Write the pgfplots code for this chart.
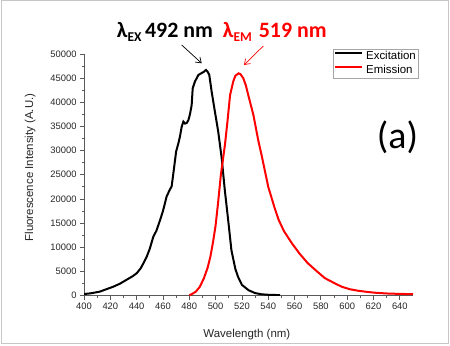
\documentclass[border=0pt]{standalone}
\usepackage{fontspec}
\setmainfont{Liberation Sans}
\newfontfamily\carlito{Carlito}
\usepackage{pgfplots}
\pgfplotsset{compat=1.18}
\usetikzlibrary{arrows.meta}
\begin{document}
\begin{tikzpicture}[x=1bp,y=1bp]
\useasboundingbox (0,0) rectangle (450,345);
\draw[gray!45, line width=1bp] (1,1.5) rectangle (448.5,344);
\begin{axis}[
 at={(84bp,49.5bp)}, anchor=south west, scale only axis, width=329bp, height=241.5bp,
 xmin=400, xmax=650, ymin=0, ymax=50000,
 axis lines=left, axis line style={-, black!65, line width=0.8bp},
 xtick={400,420,...,640}, ytick={0,5000,...,50000},
 minor x tick num=1, minor y tick num=1,
 tick align=outside, major tick length=4bp, minor tick length=2.5bp,
 tick style={black!65, line width=0.8bp},
 scaled y ticks=false,
 /pgf/number format/.cd, 1000 sep={}, assume math mode=true, /pgfplots/.cd,
 ticklabel style={font=\fontsize{9.4}{10}\selectfont, text=black!85},
 xlabel={Wavelength (nm)}, ylabel={Fluorescence Intensity (A.U.)},
 label style={font=\fontsize{11.5}{12}\selectfont, text=black!85},
 xlabel style={at={(axis description cs:0.495,-0.172)}, anchor=base},
 ylabel style={at={(axis description cs:-0.164,0.53)}, anchor=center},
 legend style={at={(axis description cs:0.756,1.0207)}, anchor=north west, draw=black!35, line width=0.6bp, inner sep=1.2bp, font=\fontsize{11.5}{12}\selectfont, row sep=1.5bp, column sep=2.4bp, nodes={inner sep=0.8bp, text height=8.5bp, text depth=2.5bp}},
 legend cell align=left,
 legend image code/.code={\draw[#1, line width=2bp] (0bp,3.5bp) -- (26.7bp,3.5bp);},
]
\addplot[black, line width=2bp] coordinates {
(400,300) (405,450) (412,800) (418,1400) (422,1800) (427,2400) (432,3200) (437,4000)
(440,4600) (443,5600) (445,6600) (447.6,8000) (450,9700) (452.7,12200) (455,13400)
(457.8,15600) (460,17500) (462.8,20500) (465,21800) (466.6,22600) (468,25500)
(470,29800) (471.7,31500) (472.9,32900) (474.2,34900) (475.5,36000) (476.7,35600)
(478,35700) (479.3,36300) (480.5,37500) (481.8,39400) (482.6,42900) (484.3,44300)
(486.9,45650) (489,46000) (491,46300) (492.7,46700) (494,46300) (495.2,45650)
(497,42200) (499.5,38000) (502,33900) (504.6,28500) (507,21800) (510,14500)
(512,9400) (515,5500) (517,3900) (520,2200) (525,1100) (530,500) (535,250)
(540,150) (549,80)
};
\addlegendentry{Excitation}
\addplot[red, line width=2bp] coordinates {
(480,50) (482,300) (485,800) (488,1800) (491,3500) (494,5800) (496,8000) (498,11000)
(500,14500) (502,19500) (504,25000) (506,29000) (507.1,31200) (509,36000) (511,41500)
(513.4,44300) (515,45500) (517.5,46000) (519,45800) (521,45000) (523,43500)
(525,41300) (528.7,37400) (532.5,32000) (535,29000) (540,22500) (545,18000)
(548,15600) (552,13300) (558,10800) (564,8600) (570,6700) (577,5000) (583,3600)
(590,2600) (596,1800) (602,1300) (608,1000) (615,750) (621,580) (630,420)
(640,330) (650,280)
};
\addlegendentry{Emission}
\end{axis}
\node[anchor=base west, inner sep=0, font=\carlito\bfseries\fontsize{22}{22}\selectfont] at (116.7,307.7)
 {λ\raisebox{-4.4bp}{\fontsize{13.5}{13.5}\selectfont EX}\hspace{3.5bp}492 nm};
\node[anchor=base west, inner sep=0, text=red, font=\carlito\bfseries\fontsize{22}{22}\selectfont] at (222.7,307.7)
 {λ\raisebox{-4.4bp}{\fontsize{13.5}{13.5}\selectfont EM}\hspace{7bp}519 nm};
\draw[black, line width=0.7bp, -{Straight Barb[length=5bp,width=7bp]}] (181.7,300) -- (201.7,281.7);
\draw[red, line width=0.7bp, -{Straight Barb[length=5bp,width=7bp]}] (263.3,299) -- (244,280);
\node[anchor=base, inner sep=0, font=\carlito\fontsize{38}{38}\selectfont] at (397.5,196.7) {(a)};
\end{tikzpicture}
\end{document}
